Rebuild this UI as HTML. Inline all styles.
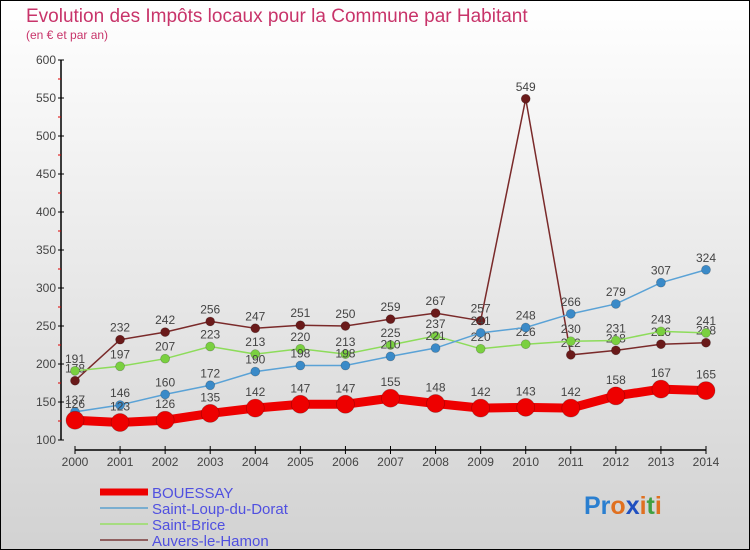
<!DOCTYPE html>
<html><head><meta charset="utf-8"><style>
html,body{margin:0;padding:0}
#wrap{position:relative;width:748px;height:548px;border:1px solid #000;background:linear-gradient(#ffffff,#d2d2d2);font-family:"Liberation Sans",sans-serif;overflow:hidden}
svg{position:absolute;left:-1px;top:-1px}
</style></head><body>
<div id="wrap">
<svg id="c" width="750" height="550">
<text x="26" y="22" font-size="19" fill="#c8346a">Evolution des Impôts locaux pour la Commune par Habitant</text>
<text x="26" y="39" font-size="12" fill="#c8346a">(en € et par an)</text>
<g id="axes"></g><g id="series"></g><g id="legend"></g>
<text x="584" y="514" font-size="25" font-weight="bold"><tspan fill="#2a7fd0">Pr</tspan><tspan fill="#e07020">o</tspan><tspan fill="#2050c0">x</tspan><tspan fill="#e07020">i</tspan><tspan fill="#40a040">t</tspan><tspan fill="#e07020">i</tspan></text>
</svg></div>
<script>
const years=[2000,2001,2002,2003,2004,2005,2006,2007,2008,2009,2010,2011,2012,2013,2014];
const yTicks=[100,150,200,250,300,350,400,450,500,550,600];
const bouessay=[126,123,126,135,142,147,147,155,148,142,143,142,158,167,165];
const saintLoup=[137,146,160,172,190,198,198,210,221,241,248,266,279,307,324];
const saintBrice=[191,197,207,223,213,220,213,225,237,220,226,230,231,243,241];
const auvers=[178,232,242,256,247,251,250,259,267,257,549,212,218,226,228];
const names=["BOUESSAY","Saint-Loup-du-Dorat","Saint-Brice","Auvers-le-Hamon"];
const NS="http://www.w3.org/2000/svg";
const x=i=>75+i*(706-75)/(years.length-1);
const y=v=>440-(v-100)*380/500;
function mk(tag,attrs,parent){const e=document.createElementNS(NS,tag);for(const k in attrs)e.setAttribute(k,attrs[k]);parent.appendChild(e);return e;}
const ax=document.getElementById('axes');
let l=mk('line',{x1:61,y1:60,x2:61,y2:440,stroke:'#000','stroke-width':1.5},ax);


yTicks.forEach((v,i)=>{
 mk('line',{x1:58,x2:64,y1:y(v),y2:y(v),stroke:'#000'},ax);
 if(i<yTicks.length-1)mk('line',{x1:58,x2:61,y1:y(v+25),y2:y(v+25),stroke:'#d00'},ax);
 const t=mk('text',{x:56,y:y(v)+4,'text-anchor':'end','font-size':12,fill:'#444'},ax);t.textContent=v;
 
 
});
l=mk('line',{x1:75,y1:450,x2:706,y2:450,stroke:'#000','stroke-width':1.5},ax);


years.forEach((yr,i)=>{
 mk('line',{x1:x(i),x2:x(i),y1:446,y2:454,stroke:'#000'},ax);
 const t=mk('text',{x:x(i),y:466,'text-anchor':'middle','font-size':12,fill:'#444'},ax);t.textContent=yr;
 
 
});
const sg=document.getElementById('series');
const defs=[[auvers,'#7a2a2a','#6a1a1a',1.5,4.5,'auvers-le-hamon'],[saintBrice,'#8ddc5a','#7ad040',1.5,4.5,'saint-brice'],[saintLoup,'#5aa2d6','#3a8ac8',1.5,4.5,'saint-loup-du-dorat'],[bouessay,'#ee0000','#ee0000',9,9,'bouessay']];
defs.forEach(([d,c,pc,w,r,n])=>{
 const g=mk('g',{},sg);
 
 
 mk('polyline',{points:d.map((v,i)=>x(i)+','+y(v)).join(' '),fill:'none',stroke:c,'stroke-width':w},g);
 d.forEach((v,i)=>{
  const p=mk('circle',{cx:x(i),cy:y(v),r:r,fill:pc,stroke:'rgba(0,0,0,0.25)','stroke-width':0.7},g);
  
  
  const t=mk('text',{x:x(i),y:y(v)-(n==='bouessay'?12:8),'text-anchor':'middle','font-size':12,fill:'#444'},g);t.textContent=v;
  
  
 });
});
const lg=document.getElementById('legend');
const lc=['#ee0000','#7aaed0','#a6dc80','#906060'],lw=[7,2,2,2];
names.forEach((n,i)=>{
 const yy=492+i*16;
 const g=mk('g',{},lg);
 
 
 mk('line',{x1:100,x2:148,y1:yy,y2:yy,stroke:lc[i],'stroke-width':lw[i]},g);
 const t=mk('text',{x:152,y:yy+6,'font-size':15,fill:'#5050e0'},g);t.textContent=n;
});
</script>
</body></html>
